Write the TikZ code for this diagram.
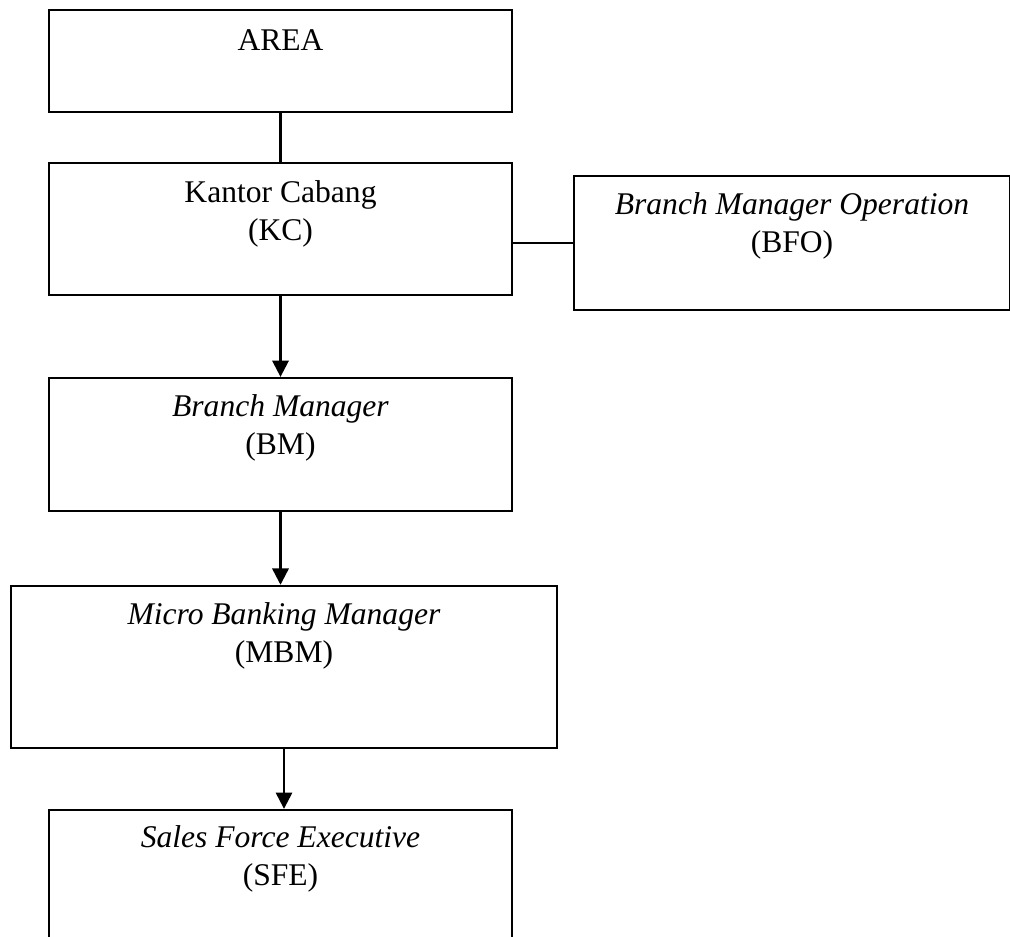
\documentclass[tikz,border=0pt]{standalone}
\usepackage{fontspec}
\setmainfont{Liberation Serif}
\usetikzlibrary{arrows.meta}
\tikzset{
	box/.style={draw, line width=0.9pt, inner sep=0pt},
	link/.style={line width=0.9pt},
	flow/.style={line width=0.9pt, -{Triangle[length=6.2pt,width=6.2pt]}},
	txt/.style={align=center, inner sep=0pt, font=\fontsize{12}{14.4}\selectfont}
}
\begin{document}
\begin{tikzpicture}[x=0.38pt, y=-0.38pt]
		\fill[white] (0,0) rectangle (1010,936);
		\clip (0,0) rectangle (1010,936);
		\node[box, minimum width=175.9pt, minimum height=38.8pt] (area) at (280.5,61) {};
		\node[box, minimum width=175.9pt, minimum height=50.2pt] (kc) at (280.5,229) {};
		\node[box, minimum width=165.7pt, minimum height=50.9pt] (bfo) at (792,243) {};
		\node[box, minimum width=175.9pt, minimum height=50.5pt] (bm) at (280.5,444.5) {};
		\node[box, minimum width=207.5pt, minimum height=61.6pt] (mbm) at (284,667) {};
		\node[box, minimum width=175.9pt, minimum height=53.2pt] (sfe) at (280.5,880) {};
		\node[txt] (areatxt) at (280.5,40) {AREA};
		\node[txt] (kctxt) at (280.5,214) {Kantor Cabang\\(KC)};
		\node[txt] (bfotxt) at (792,226) {\textit{Branch Manager Operation}\\(BFO)};
		\node[txt] (bmtxt) at (280.5,428) {\textit{Branch Manager}\\(BM)};
		\node[txt] (mbmtxt) at (284,636) {\textit{Micro Banking Manager}\\(MBM)};
		\node[txt] (sfetxt) at (280.5,859) {\textit{Sales Force Executive}\\(SFE)};
		\draw[link] (area.south) -- (kc.north);
		\draw[link] (kc.east |- bfo.west) -- (bfo.west);
		\draw[flow] (kc.south) -- (bm.north);
		\draw[flow] (bm.south) -- (bm.south |- mbm.north);
		\draw[flow] (mbm.south) -- (mbm.south |- sfe.north);
	\end{tikzpicture}
\end{document}
